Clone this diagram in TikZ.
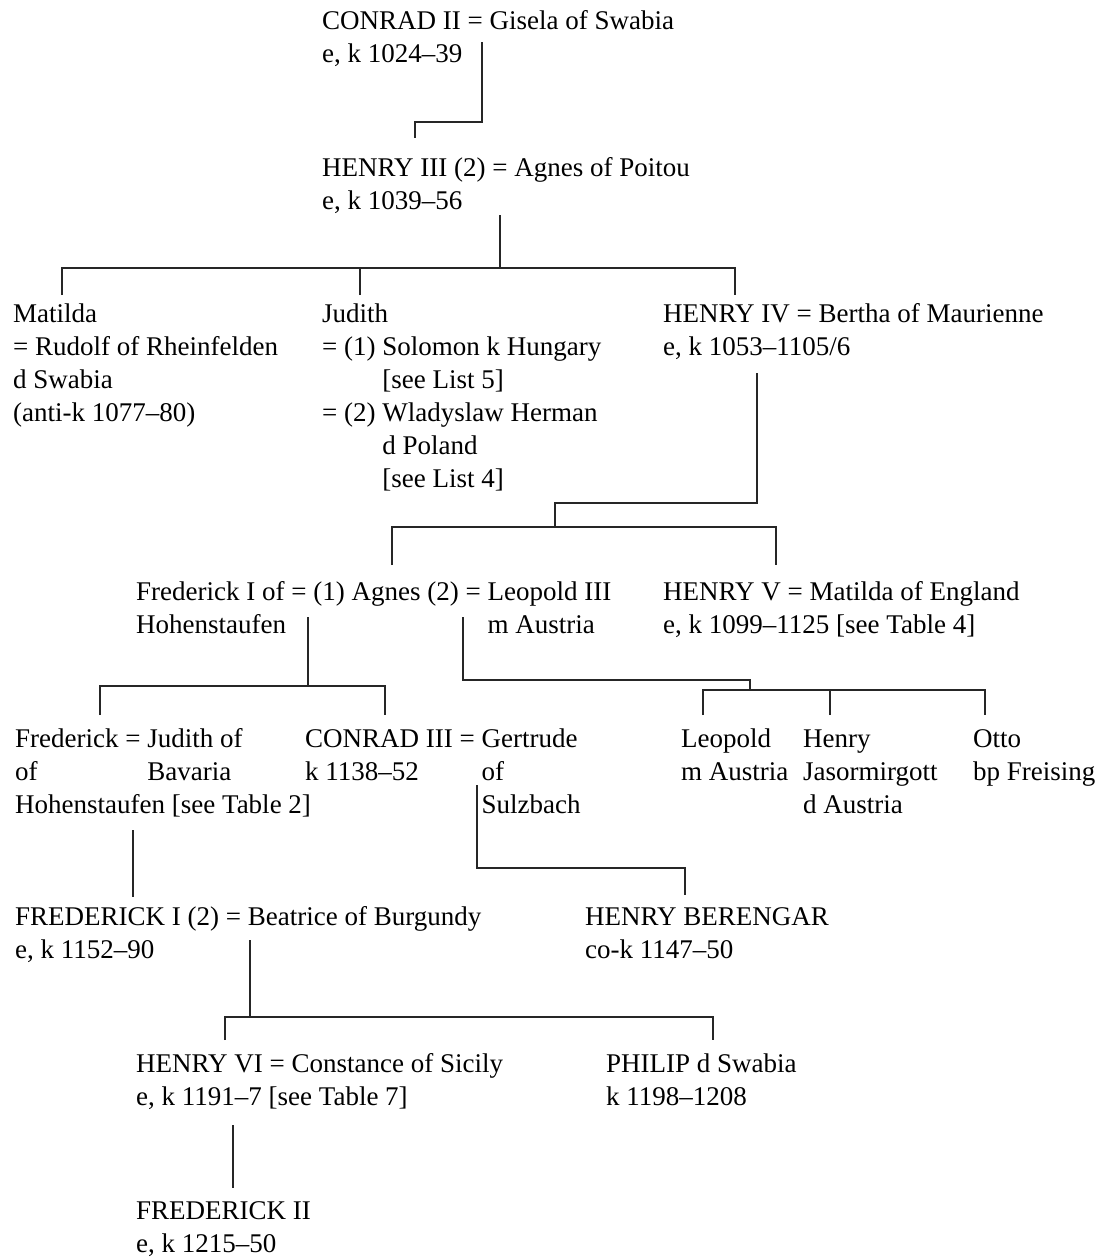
\documentclass[tikz,border=0pt]{standalone}
\usepackage{fontspec}
\setmainfont{Liberation Serif}
\newcommand{\famtext}[1]{\begin{tabular}[t]{@{}l@{}}#1\end{tabular}}
\begin{document}
\begin{tikzpicture}[x=1pt,y=-1pt,
  person/.style={anchor=base west, inner sep=0pt, align=left, font=\fontsize{27}{33}\selectfont},
  link/.style={line width=1.4pt, draw=black!85}]
\useasboundingbox (0,0) rectangle (1101,1258);
% ---------- people ----------
\node[person] (conrad) at (322,29) {\famtext{CONRAD II = Gisela of Swabia\\e, k 1024--39}};
\node[person] (henry3) at (322,176) {\famtext{HENRY III (2) = Agnes of Poitou\\e, k 1039--56}};
\node[person] (matilda) at (13,322) {\famtext{Matilda\\= Rudolf of Rheinfelden\\d Swabia\\(anti-k 1077--80)}};
\node[person] (judith) at (322,322) {\begin{tabular}[t]{@{}l@{\ }l@{}}\multicolumn{2}{@{}l@{}}{Judith}\\= (1) & Solomon k Hungary\\ & [see List 5]\\= (2) & Wladyslaw Herman\\ & d Poland\\ & [see List 4]\end{tabular}};
\node[person] (henry4) at (663,322) {\famtext{HENRY IV = Bertha of Maurienne\\e, k 1053--1105/6}};
\node[person] (agnes) at (136,600) {\begin{tabular}[t]{@{}l@{\ }l@{}}Frederick I of = (1) Agnes (2) = & Leopold III\\Hohenstaufen & m Austria\end{tabular}};
\node[person] (henry5) at (663,600) {\famtext{HENRY V = Matilda of England\\e, k 1099--1125 [see Table 4]}};
\node[person] (fredj) at (15,747) {\begin{tabular}[t]{@{}l@{\ }l@{}}Frederick = & Judith of\\of & Bavaria\\\multicolumn{2}{@{}l@{}}{Hohenstaufen [see Table 2]}\end{tabular}};
\node[person] (conrad3) at (305,747) {\begin{tabular}[t]{@{}l@{\ }l@{}}CONRAD III = & Gertrude\\k 1138--52 & of\\ & Sulzbach\end{tabular}};
\node[person] (leopold) at (681,747) {\famtext{Leopold\\m Austria}};
\node[person] (henryj) at (803,747) {\famtext{Henry\\Jasormirgott\\d Austria}};
\node[person] (otto) at (973,747) {\famtext{Otto\\bp Freising}};
\node[person] (fred1) at (15,925) {\famtext{FREDERICK I (2) = Beatrice of Burgundy\\e, k 1152--90}};
\node[person] (berengar) at (585,925) {\famtext{HENRY BERENGAR\\co-k 1147--50}};
\node[person] (henry6) at (136,1072) {\famtext{HENRY VI = Constance of Sicily\\e, k 1191--7 [see Table 7]}};
\node[person] (philip) at (606,1072) {\famtext{PHILIP d Swabia\\k 1198--1208}};
\node[person] (fred2) at (136,1219) {\famtext{FREDERICK II\\e, k 1215--50}};
% ---------- connector points ----------
\coordinate (conradD) at (482,42);
\coordinate (henry3U) at (415,138);
\coordinate (henry3D) at (500,215);
\coordinate (barA) at (500,268);
\coordinate (matildaU) at (62,295);
\coordinate (judithU) at (360,295);
\coordinate (henry4U) at (735,295);
\coordinate (henry4D) at (757,373);
\coordinate (stepB) at (555,503);
\coordinate (barB) at (555,527);
\coordinate (agnesU) at (392,565);
\coordinate (henry5U) at (776,565);
\coordinate (agnesD) at (308,617);
\coordinate (barC) at (308,686);
\coordinate (fredjU) at (100,715);
\coordinate (conrad3U) at (385,715);
\coordinate (leopoldD) at (463,617);
\coordinate (stepD) at (750,680);
\coordinate (barD) at (750,690);
\coordinate (leopoldU) at (703,715);
\coordinate (henryjU) at (830,715);
\coordinate (ottoU) at (985,715);
\coordinate (fredjD) at (133,830);
\coordinate (fred1U) at (133,897);
\coordinate (conrad3D) at (477,785);
\coordinate (stepE) at (477,868);
\coordinate (berengarU) at (685,895);
\coordinate (fred1D) at (250,940);
\coordinate (barF) at (250,1017);
\coordinate (henry6U) at (225,1040);
\coordinate (philipU) at (713,1040);
\coordinate (henry6D) at (233,1125);
\coordinate (fred2U) at (233,1188);
% ---------- connectors ----------
\draw[link] (conradD) -- (conradD |- 0,122) -| (henry3U);
\draw[link] (henry3D) -- (barA);
\draw[link] (matildaU) |- (barA) -| (henry4U);
\draw[link] (judithU) -- (judithU |- barA);
\draw[link] (henry4D) |- (stepB) -- (barB);
\draw[link] (agnesU) |- (barB) -| (henry5U);
\draw[link] (agnesD) -- (barC);
\draw[link] (fredjU) |- (barC) -| (conrad3U);
\draw[link] (leopoldD) |- (stepD) -- (barD);
\draw[link] (leopoldU) |- (barD) -| (ottoU);
\draw[link] (henryjU) -- (henryjU |- barD);
\draw[link] (fredjD) -- (fred1U);
\draw[link] (conrad3D) -- (stepE) -| (berengarU);
\draw[link] (fred1D) -- (barF);
\draw[link] (henry6U) |- (barF) -| (philipU);
\draw[link] (henry6D) -- (fred2U);
\end{tikzpicture}
\end{document}
